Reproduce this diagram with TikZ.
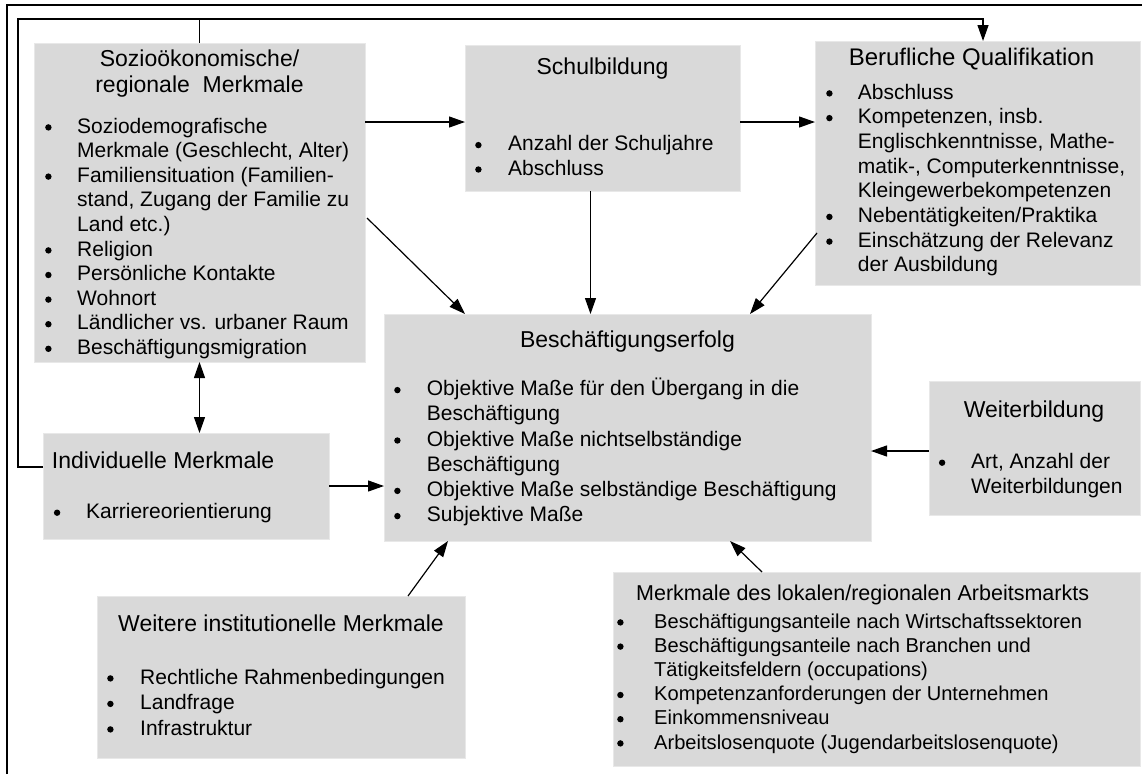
\documentclass[tikz,border=0pt]{standalone}
\usepackage{fontspec}
\setmainfont{Liberation Sans}
\usetikzlibrary{arrows.meta,calc}
\definecolor{boxgray}{RGB}{217,217,217}
\definecolor{boxedge}{RGB}{232,232,232}
\newlength\bind
% round bullet dot
\newcommand\dotb{\hspace{0.7pt}\raisebox{5.6pt}{\tikz[baseline=0pt]{\fill[black] (0,0) circle[radius=3.2pt];}}}
% bulleted item with hanging indent
\newcommand\itm[1]{\par\hangindent=\bind\hangafter=1\noindent\makebox[\bind][l]{\dotb}#1}
% bulleted list: indent, font size, line step, items
\newcommand\blist[4]{\parbox[t]{600pt}{\setlength\bind{#1pt}\fontsize{#2pt}{#3pt}\selectfont\parskip=0pt\parfillskip=0pt plus 1fil\relax#4}}
% heading: width, font size, line step, text
\newcommand\hdg[4]{\parbox[t]{#1pt}{\fontsize{#2pt}{#3pt}\selectfont\centering#4}}
\tikzset{
  x=1pt, y=1pt,
  box/.style={anchor=north west, inner sep=0pt, outer sep=0pt, fill=boxgray, draw=boxedge, line width=0.8pt},
  ttl/.style={anchor=base, inner sep=0pt, font=\fontsize{23pt}{26pt}\selectfont},
  lst/.style={anchor=base west, inner sep=0pt},
  arr/.style={line width=1.2pt, -{Triangle[length=16pt,width=11pt]}},
  con/.style={line width=1.2pt},
}
\begin{document}
\begin{tikzpicture}
\useasboundingbox (0,0) rectangle (1142,-774);
\fill[white] (0,0) rectangle (1142,-774);

% frame lines
\draw[line width=1.5pt] (7,-774) -- (7,-5) -- (1142,-5);

% boxes
\node[box, minimum width=331pt, minimum height=319pt] (soz) at (34,-43) {};
\node[box, minimum width=275pt, minimum height=146pt] (schul) at (465,-45) {};
\node[box, minimum width=325pt, minimum height=244pt] (beruf) at (815,-41) {};
\node[box, minimum width=487pt, minimum height=227pt] (besch) at (384,-314) {};
\node[box, minimum width=286pt, minimum height=106pt] (indiv) at (43,-433) {};
\node[box, minimum width=368pt, minimum height=162pt] (weitere) at (97,-596) {};
\node[box, minimum width=211pt, minimum height=134pt] (weiterb) at (929,-381) {};
\node[box, minimum width=527pt, minimum height=194pt] (markt) at (613,-572) {};

% texts: Soziooekonomische Merkmale
\node[ttl] (sozT) at (199.5,-66) {\hdg{331}{23}{26}{Sozioökonomische/\\regionale~ Merkmale}};
\node[lst] (sozL) at (44.3,-133) {\blist{32.7}{21}{24.6}{%
  \itm{Soziodemografische\\Merkmale (Geschlecht, Alter)}%
  \itm{Familiensituation (Familien-\\stand, Zugang der Familie zu\\Land etc.)}%
  \itm{Religion}%
  \itm{Persönliche Kontakte}%
  \itm{Wohnort}%
  \itm{Ländlicher vs. urbaner Raum}%
  \itm{Beschäftigungsmigration}}};

% Schulbildung
\node[ttl] (schulT) at (602.5,-74) {Schulbildung};
\node[lst] (schulL) at (474.3,-150.7) {\blist{33.7}{21}{24.4}{%
  \itm{Anzahl der Schuljahre}%
  \itm{Abschluss}}};

% Berufliche Qualifikation
\node[ttl, font=\fontsize{24pt}{27pt}\selectfont] (berufT) at (971.5,-65.7) {Berufliche Qualifikation};
\node[lst] (berufL) at (825.3,-99) {\blist{32.4}{21}{24.7}{%
  \itm{Abschluss}%
  \itm{Kompetenzen, insb.\\Englischkenntnisse, Mathe-\\matik-, Computerkenntnisse,\\Kleingewerbekompetenzen}%
  \itm{Nebentätigkeiten/Praktika}%
  \itm{Einschätzung der Relevanz\\der Ausbildung}}};

% Beschaeftigungserfolg
\node[ttl] (beschT) at (627.5,-347.3) {Beschäftigungserfolg};
\node[lst] (beschL) at (393.3,-395.7) {\blist{33.4}{21}{25.2}{%
  \itm{Objektive Maße für den Übergang in die\\Beschäftigung}%
  \itm{Objektive Maße nichtselbständige\\Beschäftigung}%
  \itm{Objektive Maße selbständige Beschäftigung}%
  \itm{Subjektive Maße}}};

% Individuelle Merkmale
\node[ttl, anchor=base west] (indivT) at (51.7,-468.3) {Individuelle Merkmale};
\node[lst] (indivL) at (53,-518.3) {\blist{33}{21}{25}{%
  \itm{Karriereorientierung}}};

% Weitere institutionelle Merkmale
\node[ttl] (weitereT) at (281,-631.7) {Weitere institutionelle Merkmale};
\node[lst] (weitereL) at (106.3,-684) {\blist{33.7}{21}{25.5}{%
  \itm{Rechtliche Rahmenbedingungen}%
  \itm{Landfrage}%
  \itm{Infrastruktur}}};

% Weiterbildung
\node[ttl] (weiterbT) at (1034,-417.3) {Weiterbildung};
\node[lst] (weiterbL) at (938,-468.3) {\blist{33}{21}{25}{%
  \itm{Art, Anzahl der\\Weiterbildungen}}};

% Merkmale des lokalen/regionalen Arbeitsmarkts
\node[ttl, anchor=base west, font=\fontsize{21.5pt}{24pt}\selectfont] (marktT) at (636,-600) {Merkmale des lokalen/regionalen Arbeitsmarkts};
\node[lst] (marktL) at (616.3,-628) {\blist{37.7}{20.1}{24.2}{%
  \itm{Beschäftigungsanteile nach Wirtschaftssektoren}%
  \itm{Beschäftigungsanteile nach Branchen und\\Tätigkeitsfeldern (occupations)}%
  \itm{Kompetenzanforderungen der Unternehmen}%
  \itm{Einkommensniveau}%
  \itm{Arbeitslosenquote (Jugendarbeitslosenquote)}}};

% helper coordinates for connector routes
\coordinate (rowA) at (0,-122);
\coordinate (fbL) at (18,-19);
\coordinate (fbR) at (983,-19);
\coordinate (fbY) at (0,-467);
\coordinate (wbY) at (0,-451);

% connectors
\draw[arr] (soz.east |- rowA) -- (schul.west |- rowA);
\draw[arr] (schul.east |- rowA) -- (beruf.west |- rowA);
\draw[arr] ([shift={(2,-175)}]soz.north east) -- ([xshift=81]besch.north west);
\draw[arr] ([xshift=-12]schul.south) -- ([xshift=-12]schul.south |- besch.north);
\draw[arr] ([shift={(2,-192)}]beruf.north west) -- ([xshift=366]besch.north west);
\draw[arr, {Triangle[length=16pt,width=11pt]}-{Triangle[length=16pt,width=11pt]}] (soz.south) -- (soz.south |- indiv.north);
\draw[arr] (indiv.east) -- (indiv.east -| besch.west);
\draw[arr] (weiterb.west |- wbY) -- (besch.east |- wbY);
\draw[arr] ([xshift=311]weitere.north west) -- ([xshift=64]besch.south west);
\draw[arr] ([xshift=149]markt.north west) -- ([xshift=346]besch.south west);
\draw[arr] (indiv.west |- fbY) -| (fbL) -- (fbR) -- (beruf.north -| fbR);
\draw[con] (soz.north) -- (soz.north |- fbL);
\end{tikzpicture}
\end{document}
